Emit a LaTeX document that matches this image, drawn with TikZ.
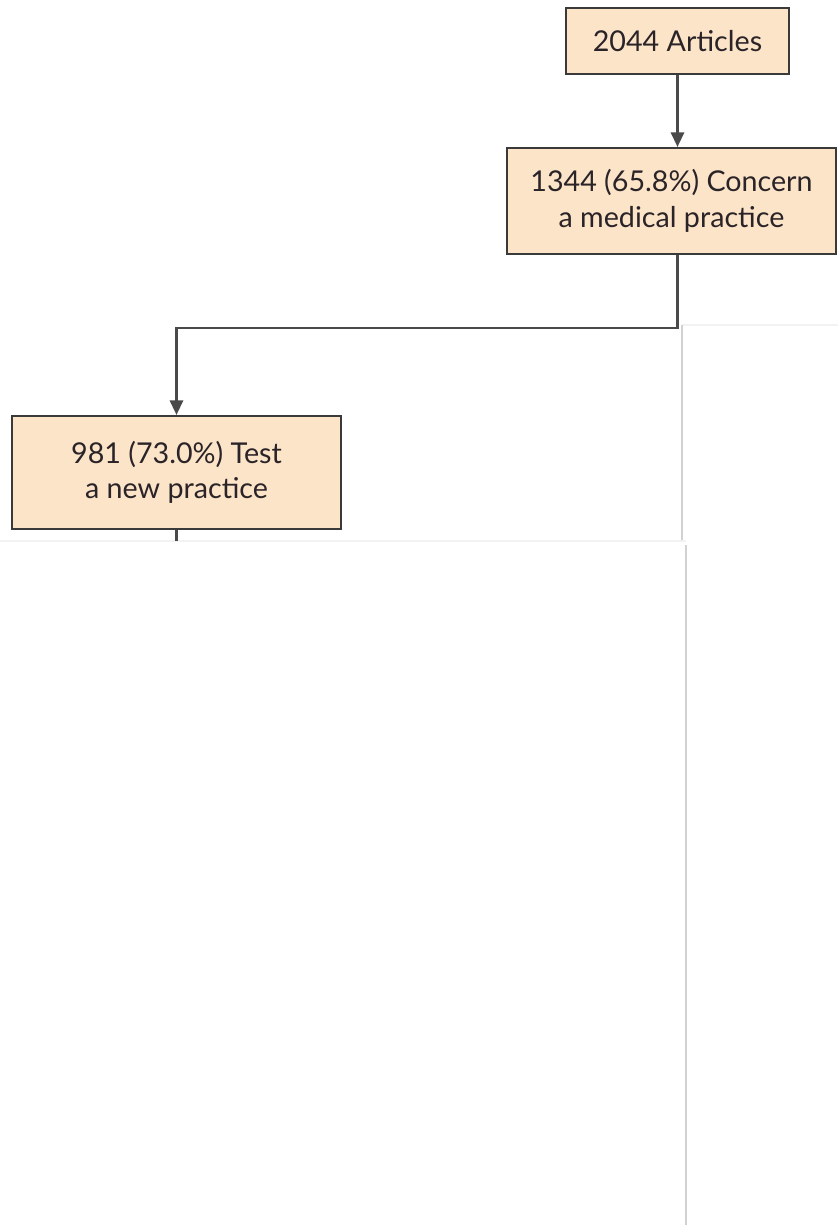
\documentclass[tikz,border=0pt]{standalone}
\usepackage{fontspec}
\setmainfont{Lato}
\usetikzlibrary{arrows.meta,calc}
\definecolor{boxfill}{HTML}{FCE4C8}
\definecolor{boxline}{HTML}{3A3A3A}
\definecolor{txt}{HTML}{2A2428}
\definecolor{conn}{HTML}{4A4A4A}
\begin{document}
\begin{tikzpicture}[x=0.75pt,y=-0.75pt,
  box/.style={draw=boxline,line width=1.6pt,fill=boxfill,text=txt,align=center,
    inner sep=0pt,font=\fontsize{21.5}{26.5}\selectfont},
  conn/.style={draw=conn,line width=1.7pt},
  arr/.style={conn,-{Triangle[length=11pt,width=10pt]}},
  edge/.style={draw=black!18,line width=1.2pt}]
\useasboundingbox[fill=white] (0,0) rectangle (838,1225);
% faint page edges
\draw[draw=black!5,line width=0.8pt] (682,325) -- (838,325);
\draw[draw=black!5,line width=0.8pt] (0,541) -- (686,541);
\draw[edge] (682,325) -- (682,540);
\draw[edge] (686,545) -- (686,1225);
% boxes
\node[box,minimum width=223*0.75pt,minimum height=66*0.75pt] (b1) at (677.5,41) {2044 Articles};
\node[box,minimum width=329*0.75pt,minimum height=106*0.75pt] (b2) at (671.5,201) {1344 (65.8\%) Concern\\a medical practice};
\node[box,minimum width=329*0.75pt,minimum height=113*0.75pt] (b3) at (176.5,472.5) {981 (73.0\%) Test\\a new practice};
\coordinate (end3) at (176.5,541);
% connectors
\draw[arr] (b1.south) -- (b1.south |- b2.north);
\draw[arr] (b1.south |- b2.south) -- ++(0,73) -| (b3.north);
\draw[conn] (b3.south) -- (end3);
\end{tikzpicture}
\end{document}
